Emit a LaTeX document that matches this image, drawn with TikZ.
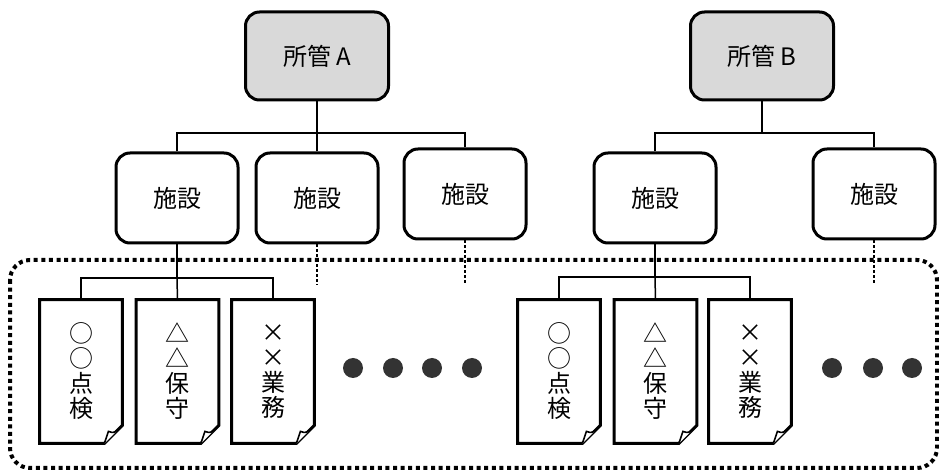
\documentclass[tikz,border=0pt]{standalone}
\usepackage{fontspec}
\setmainfont{Noto Sans CJK JP}
\usepackage{tikz}
\usetikzlibrary{positioning}
\tikzstyle{office} = [draw, rounded corners=7pt, line width=1.5pt, fill=black!15, minimum width=71.5pt, minimum height=44pt]
\tikzstyle{site} = [draw, rounded corners=7pt, line width=1.5pt, minimum width=61pt, minimum height=45pt]
\tikzstyle{sheet} = [minimum width=41pt, minimum height=71.5pt, align=center, inner sep=0]
\tikzstyle{more} = [circle, fill=black!80, minimum size=10pt, inner sep=0]
\tikzstyle{link} = [line width=0.75pt]
\tikzstyle{cont} = [line width=0.75pt, dash pattern=on 1.5pt off 1pt]
\tikzstyle{frame} = [line width=2pt, dash pattern=on 2pt off 1.8pt, rounded corners=10pt]

\begin{document}
\begin{tikzpicture}[x=0.5pt, y=-0.5pt, font=\fontsize{12}{12.5}\selectfont]
				\useasboundingbox (0, 0) rectangle (939, 470);

				% the work area
				\draw [frame] (10, 260) rectangle (937, 468);

				% office A
				\node (ShoA) [office] at (317, 56) {所管 A};
				\coordinate (JunA) at (317, 133);
				\draw [link] (ShoA) -- (JunA);

				\node (SisA1) [site] at (177, 198) {施設};
				\node (SisA2) [site] at (317, 198) {施設};
				\node (SisA3) [site] at (465, 194) {施設};
				\draw [link] (SisA1.north) |- (JunA);
				\draw [link] (SisA2.north) -- (JunA);
				\draw [link] (SisA3.north) |- (JunA);

				\coordinate (EndA2) at (317, 285);
				\coordinate (EndA3) at (465, 285);
				\draw [cont] (SisA2) -- (EndA2);
				\draw [cont] (SisA3) -- (EndA3);

				% works of the first site
				\coordinate (WrkA) at (177, 278);
				\draw [link] (SisA1) -- (WrkA);
				\node (DocA1) [sheet] at (81, 371.5) {○\\○\\点\\検};
				\node (DocA2) [sheet] at (177.5, 371.5) {△\\△\\保\\守};
				\node (DocA3) [sheet] at (273, 371.5) {×\\×\\業\\務};
				\draw [link] (DocA1.north) |- (WrkA);
				\draw [link] (DocA2.north) -- (WrkA);
				\draw [link] (DocA3.north) |- (WrkA);

				\foreach \i/\x in {1/353, 2/393, 3/432, 4/472}
					\node (MoreA\i) [more] at (\x, 368) {};

				% office B
				\node (ShoB) [office] at (762, 56) {所管 B};
				\coordinate (JunB) at (762, 133);
				\draw [link] (ShoB) -- (JunB);

				\node (SisB1) [site] at (655, 198) {施設};
				\node (SisB2) [site] at (874, 194) {施設};
				\draw [link] (SisB1.north) |- (JunB);
				\draw [link] (SisB2.north) |- (JunB);

				\coordinate (EndB2) at (874, 285);
				\draw [cont] (SisB2) -- (EndB2);

				% works of the first site
				\coordinate (WrkB) at (655, 277);
				\draw [link] (SisB1) -- (WrkB);
				\node (DocB1) [sheet] at (559, 371.5) {○\\○\\点\\検};
				\node (DocB2) [sheet] at (655.5, 371.5) {△\\△\\保\\守};
				\node (DocB3) [sheet] at (750, 371.5) {×\\×\\業\\務};
				\draw [link] (DocB1.north) |- (WrkB);
				\draw [link] (DocB2.north) -- (WrkB);
				\draw [link] (DocB3.north) |- (WrkB);

				\foreach \i/\x in {1/832, 2/873, 3/912}
					\node (MoreB\i) [more] at (\x, 368) {};

				% sheets with a turned corner
				\foreach \d in {DocA1, DocA2, DocA3, DocB1, DocB2, DocB3} {
					\draw [line width=1.5pt, line join=miter] (\d.north west) -- (\d.north east)
						-- ([yshift=9pt]\d.south east) -- ([xshift=-9pt]\d.south east)
						-- (\d.south west) -- cycle;
					\draw [line width=0.8pt, fill=white] ([yshift=9pt]\d.south east)
						.. controls ([xshift=-4pt, yshift=5pt]\d.south east) .. ([xshift=-7pt, yshift=6pt]\d.south east)
						-- ([xshift=-9pt]\d.south east);
				}
			\end{tikzpicture}
\end{document}
